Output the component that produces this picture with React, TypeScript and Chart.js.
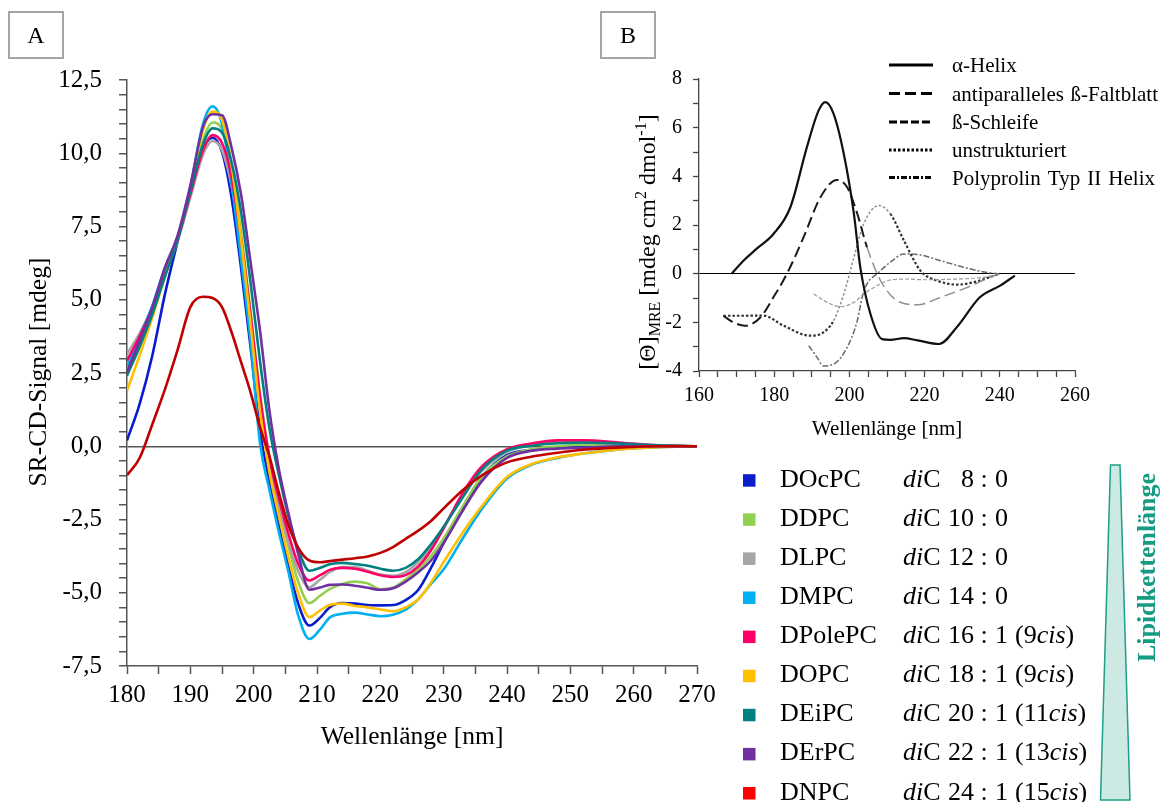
import React, { useEffect, useRef } from 'react';
import { Chart, registerables } from 'chart.js';

Chart.register(...registerables);

const FONT = "'Liberation Serif', 'Times New Roman', Times, serif";

// ---------- Panel A data ----------
const wavelengths = [180, 182, 184, 186, 188, 190, 192, 193.5, 195, 196.5, 198, 199.5, 201, 202.5, 204, 205.5, 207, 208.8, 210.5, 212, 214, 216, 218, 220, 222, 224, 226, 228, 230, 233, 236, 240, 244, 248, 252, 258, 264, 270];

const dOcPC = [0.2, 1.45, 3.1, 5.2, 7.0, 8.7, 10.15, 10.53, 10.05, 8.5, 6.1, 3.4, 0.55, -1.2, -2.7, -4.1, -5.35, -6.12, -5.85, -5.5, -5.35, -5.37, -5.42, -5.43, -5.42, -5.25, -4.9, -4.15, -3.3, -2.1, -1.05, -0.3, -0.12, -0.06, -0.03, 0, 0, 0];
const dDPC = [2.6, 3.6, 4.6, 5.95, 7.05, 8.7, 10.45, 11.05, 10.8, 9.5, 7.3, 4.6, 1.8, -0.4, -2.0, -3.4, -4.6, -5.35, -5.1, -4.88, -4.7, -4.62, -4.68, -4.88, -4.82, -4.55, -4.2, -3.75, -3.15, -2.05, -1.05, -0.35, -0.1, 0, 0.05, 0.03, 0.01, 0];
const dLPC = [3.15, 3.85, 4.75, 5.9, 7.0, 8.5, 9.95, 10.42, 10.1, 8.9, 6.9, 4.3, 1.6, -0.6, -2.1, -3.3, -4.25, -4.81, -4.55, -4.3, -4.12, -4.12, -4.25, -4.38, -4.42, -4.3, -3.95, -3.45, -2.75, -1.7, -0.85, -0.2, 0.05, 0.12, 0.12, 0.06, 0.02, 0];
const dMPC = [2.7, 3.75, 4.8, 6.1, 7.15, 8.85, 11.0, 11.6, 11.0, 9.0, 6.4, 3.6, 0.1, -1.5, -2.95, -4.3, -5.75, -6.58, -6.25, -5.85, -5.72, -5.68, -5.74, -5.8, -5.75, -5.58, -5.22, -4.7, -4.2, -3.15, -2.15, -1.1, -0.62, -0.4, -0.25, -0.1, -0.03, 0];
const dPolePC = [2.92, 3.75, 4.7, 5.9, 7.05, 8.6, 10.1, 10.62, 10.35, 9.2, 7.1, 4.5, 1.7, -0.4, -1.8, -3.0, -4.0, -4.58, -4.4, -4.22, -4.15, -4.18, -4.28, -4.4, -4.46, -4.4, -4.1, -3.55, -2.8, -1.6, -0.7, -0.1, 0.1, 0.2, 0.2, 0.12, 0.03, 0];
const dOPC = [1.9, 3.1, 4.4, 5.8, 7.1, 8.8, 10.8, 11.42, 11.15, 9.6, 7.1, 4.2, 1.2, -0.9, -2.4, -3.8, -5.0, -5.83, -5.6, -5.42, -5.37, -5.45, -5.5, -5.57, -5.63, -5.5, -5.22, -4.65, -3.95, -2.95, -2.05, -1.05, -0.6, -0.38, -0.25, -0.1, -0.03, 0];
const dEiPC = [2.41, 3.4, 4.5, 5.8, 7.05, 8.7, 10.3, 10.85, 10.7, 9.7, 8.0, 5.6, 2.9, 0.6, -1.0, -2.4, -3.5, -4.25, -4.15, -4.03, -3.98, -4.02, -4.08, -4.18, -4.25, -4.15, -3.85, -3.35, -2.75, -1.75, -0.8, -0.15, 0.02, 0.1, 0.13, 0.09, 0.03, 0];
const dErPC = [2.53, 3.6, 4.75, 6.1, 7.2, 8.9, 10.9, 11.33, 11.3, 10.2, 8.6, 6.3, 3.95, 1.2, -0.8, -2.3, -3.65, -4.9, -4.82, -4.73, -4.72, -4.76, -4.83, -4.9, -4.85, -4.62, -4.3, -3.9, -3.3, -2.2, -1.2, -0.4, -0.15, -0.08, -0.05, 0, 0, 0];
const dNPC = [-0.99, -0.4, 0.75, 1.95, 3.3, 4.75, 5.1, 5.06, 4.75, 3.9, 2.88, 1.85, 0.65, -0.35, -1.6, -2.7, -3.45, -3.9, -3.96, -3.92, -3.87, -3.82, -3.76, -3.64, -3.44, -3.16, -2.88, -2.55, -2.12, -1.5, -1.0, -0.55, -0.35, -0.22, -0.12, -0.04, 0, 0];

const lipidNames = ['DOcPC', 'DDPC', 'DLPC', 'DMPC', 'DPolePC', 'DOPC', 'DEiPC', 'DErPC', 'DNPC'];
const chainCarbons = ['8', '10', '12', '14', '16', '18', '20', '22', '24'];
const doubleBonds = ['0', '0', '0', '0', '1', '1', '1', '1', '1'];
const cisPositions = ['', '', '', '', '9', '9', '11', '13', '15'];
const lineColors = ['#0a1ccc', '#92d050', '#a6a6a6', '#00b0f0', '#ff0066', '#ffc000', '#008080', '#7030a0', '#c00000'];
const legendColors = ['#0a1ccc', '#92d050', '#a6a6a6', '#00b0f0', '#ff0066', '#ffc000', '#008080', '#7030a0', '#ff0000'];
const seriesA = [dOcPC, dDPC, dLPC, dMPC, dPolePC, dOPC, dEiPC, dErPC, dNPC];

// ---------- Panel B data ----------
const helixX = [168.7, 171.8, 175.3, 179.8, 184.3, 188.7, 191.8, 193.6, 195.8, 198.5, 201.2, 202.9, 205.6, 208.7, 210.9, 214.5, 218.1, 223.9, 228.5, 234.7, 240.1, 244.0];
const helixY = [0, 0.53, 1.02, 1.63, 2.73, 5.2, 6.7, 7.05, 6.57, 4.93, 2.46, 0.26, -1.66, -2.69, -2.72, -2.65, -2.74, -2.89, -2.21, -0.97, -0.49, -0.08];
const antiX = [166.5, 169.1, 172.3, 176.3, 179.8, 183.4, 187.8, 192.3, 196.7, 199.4, 202.1, 204.7, 208.3, 212.7, 218.1, 224.3, 231.4, 237.6, 240];
const antiY = [-1.73, -2.0, -2.14, -1.8, -0.97, 0, 1.49, 3.14, 3.85, 3.55, 2.46, 1.08, -0.29, -1.11, -1.28, -0.97, -0.56, -0.13, 0];
const turnX = [190.5, 194.1, 197.6, 201.2, 203.8, 207.4, 210.9, 215.4, 219.8, 228.7, 235.8, 240];
const turnY = [-0.84, -1.18, -1.36, -1.18, -0.84, -0.49, -0.26, -0.22, -0.25, -0.22, -0.15, 0];
const coilX = [166.5, 171.8, 177.1, 182.5, 189.6, 193.1, 195.8, 198.5, 201.2, 203.8, 207.8, 210.9, 214.5, 218.9, 223.4, 228.7, 233.1, 237.6, 240];
const coilY = [-1.73, -1.73, -1.72, -2.14, -2.55, -2.41, -1.93, -0.84, 0.67, 2.04, 2.8, 2.46, 1.36, 0.12, -0.29, -0.45, -0.35, -0.13, 0];
const ppiiX = [189.2, 191.4, 193.1, 195.8, 199.4, 202.1, 203.4, 204.7, 207.4, 210.9, 214.5, 218.1, 224.3, 230.5, 235.8, 239.5];
const ppiiY = [-2.96, -3.44, -3.79, -3.72, -3.03, -1.93, -0.97, -0.42, 0, 0.47, 0.81, 0.79, 0.53, 0.26, 0.07, 0];
const structureLabels = ['α-Helix', 'antiparalleles ß-Faltblatt', 'ß-Schleife', 'unstrukturiert', 'Polyprolin Typ II Helix'];
const structureDashes = [[], [11, 5], [8, 3], [2.5, 2], [6, 2, 2, 2]];
const justifyRight = [0, 1158, 0, 0, 1155];

function tickIsMultiple(v: number, m: number) {
  return Math.abs(v / m - Math.round(v / m)) < 1e-6;
}

function drawPanelBox(ctx: CanvasRenderingContext2D, x: number, y: number, w: number, h: number, label: string) {
  ctx.save();
  ctx.strokeStyle = '#a6a6a6';
  ctx.lineWidth = 2;
  ctx.strokeRect(x, y, w, h);
  ctx.fillStyle = '#000';
  ctx.font = `24px ${FONT}`;
  ctx.textAlign = 'center';
  ctx.textBaseline = 'alphabetic';
  ctx.fillText(label, x + w / 2, y + h / 2 + 8);
  ctx.restore();
}

// draws words spread between x0 and x1 (justified)
function drawJustified(ctx: CanvasRenderingContext2D, text: string, x0: number, x1: number, y: number) {
  const words = text.split(' ');
  const widths = words.map((w) => ctx.measureText(w).width);
  const sum = widths.reduce((a, b) => a + b, 0);
  const gap = words.length > 1 ? (x1 - x0 - sum) / (words.length - 1) : 0;
  let x = x0;
  ctx.textAlign = 'left';
  words.forEach((w, i) => {
    ctx.fillText(w, x, y);
    x += widths[i] + gap;
  });
}

const mainDecor = {
  id: 'mainDecor',
  afterDraw(chart: any) {
    const ctx: CanvasRenderingContext2D = chart.ctx;
    ctx.save();
    drawPanelBox(ctx, 9, 12, 54, 46, 'A');
    drawPanelBox(ctx, 601, 12, 54, 46, 'B');

    ctx.fillStyle = '#000';
    ctx.font = `25.5px ${FONT}`;
    ctx.textAlign = 'center';
    ctx.textBaseline = 'alphabetic';
    ctx.fillText('Wellenlänge [nm]', 412, 744);
    ctx.save();
    ctx.translate(46, 372);
    ctx.rotate(-Math.PI / 2);
    ctx.fillText('SR-CD-Signal [mdeg]', 0, 0);
    ctx.restore();

    // lipid legend
    const base0 = 486.7;
    const step = 39.1;
    for (let i = 0; i < lipidNames.length; i++) {
      const b = base0 + i * step;
      ctx.fillStyle = legendColors[i];
      ctx.fillRect(743, b - 12.5, 12.5, 12.5);
      ctx.fillStyle = '#000';
      ctx.font = `26px ${FONT}`;
      ctx.textAlign = 'left';
      ctx.fillText(lipidNames[i], 780, b);
      ctx.font = `italic 26px ${FONT}`;
      ctx.fillText('di', 903, b);
      const wDi = ctx.measureText('di').width;
      ctx.font = `26px ${FONT}`;
      ctx.fillText('C', 903 + wDi, b);
      ctx.textAlign = 'right';
      ctx.fillText(chainCarbons[i], 974, b);
      ctx.textAlign = 'center';
      ctx.fillText(':', 984, b);
      ctx.textAlign = 'left';
      ctx.fillText(doubleBonds[i], 995, b);
      if (cisPositions[i]) {
        let x = 1015;
        const t1 = '(' + cisPositions[i];
        ctx.fillText(t1, x, b);
        x += ctx.measureText(t1).width;
        ctx.font = `italic 26px ${FONT}`;
        ctx.fillText('cis', x, b);
        x += ctx.measureText('cis').width;
        ctx.font = `26px ${FONT}`;
        ctx.fillText(')', x, b);
      }
    }

    // wedge
    ctx.beginPath();
    ctx.moveTo(1110.5, 465);
    ctx.lineTo(1120, 465);
    ctx.lineTo(1130, 800);
    ctx.lineTo(1100.5, 800);
    ctx.closePath();
    ctx.fillStyle = '#cde9e3';
    ctx.fill();
    ctx.strokeStyle = '#1f9e88';
    ctx.lineWidth = 1.5;
    ctx.stroke();

    ctx.save();
    ctx.translate(1155, 567.5);
    ctx.rotate(-Math.PI / 2);
    ctx.fillStyle = '#179c83';
    ctx.font = `bold 26px ${FONT}`;
    ctx.textAlign = 'center';
    ctx.textBaseline = 'alphabetic';
    ctx.fillText('Lipidkettenlänge', 0, 0);
    ctx.restore();

    ctx.restore();
  },
};

const insetDecor = {
  id: 'insetDecor',
  afterDraw(chart: any) {
    const ctx: CanvasRenderingContext2D = chart.ctx;
    ctx.save();
    ctx.fillStyle = '#000';
    ctx.font = `21px ${FONT}`;
    ctx.textAlign = 'center';
    ctx.textBaseline = 'alphabetic';
    ctx.fillText('Wellenlänge [nm]', 287, 395);

    // rotated y title with sub/superscripts
    const big = 24;
    const small = 16;
    const parts = [
      { t: '[Θ]', s: big, dy: 0 },
      { t: 'MRE', s: small, dy: 5 },
      { t: ' [mdeg cm', s: big, dy: 0 },
      { t: '2', s: small, dy: -9 },
      { t: ' dmol', s: big, dy: 0 },
      { t: '-1', s: small, dy: -9 },
      { t: ']', s: big, dy: 0 },
    ];
    let total = 0;
    for (const p of parts) {
      ctx.font = `${p.s}px ${FONT}`;
      total += ctx.measureText(p.t).width;
    }
    ctx.save();
    ctx.translate(55, 202);
    ctx.rotate(-Math.PI / 2);
    ctx.textAlign = 'left';
    let x = -total / 2;
    for (const p of parts) {
      ctx.font = `${p.s}px ${FONT}`;
      ctx.fillText(p.t, x, p.dy);
      x += ctx.measureText(p.t).width;
    }
    ctx.restore();

    // structure legend
    const rowsY = [25, 53.5, 82, 110, 137.5];
    ctx.font = `21px ${FONT}`;
    for (let i = 0; i < structureLabels.length; i++) {
      const y = rowsY[i];
      ctx.beginPath();
      ctx.setLineDash(structureDashes[i]);
      ctx.strokeStyle = '#000';
      ctx.lineWidth = 3;
      ctx.moveTo(289, y);
      ctx.lineTo(333, y);
      ctx.stroke();
      ctx.setLineDash([]);
      ctx.fillStyle = '#000';
      if (justifyRight[i]) {
        drawJustified(ctx, structureLabels[i], 352, justifyRight[i] - 600, y + 7);
      } else {
        ctx.textAlign = 'left';
        ctx.fillText(structureLabels[i], 352, y + 7);
      }
    }
    ctx.restore();
  },
};

function xyData(xs: number[], ys: number[]) {
  return xs.map((x, i) => ({ x, y: ys[i] }));
}

export default function App() {
  const mainRef = useRef<HTMLCanvasElement>(null);
  const insetRef = useRef<HTMLCanvasElement>(null);

  useEffect(() => {
    const tickFontA = { family: FONT, size: 25 };
    const main = new Chart(mainRef.current as HTMLCanvasElement, {
      type: 'line',
      data: {
        datasets: seriesA.map((vals, i) => ({
          label: lipidNames[i],
          data: xyData(wavelengths, vals),
          borderColor: lineColors[i],
          borderWidth: 2.6,
          pointRadius: 0,
          fill: false,
          cubicInterpolationMode: 'monotone' as const,
          order: seriesA.length - 1 - i,
        })),
      },
      options: {
        animation: false,
        responsive: false,
        maintainAspectRatio: false,
        layout: { padding: { left: 0, right: 470, top: 80, bottom: 0 } },
        plugins: { legend: { display: false }, tooltip: { enabled: false } },
        scales: {
          x: {
            type: 'linear',
            min: 180,
            max: 270,
            ticks: {
              stepSize: 5,
              autoSkip: false,
              maxRotation: 0,
              color: '#000',
              font: tickFontA,
              padding: 6,
              callback: (v: any) => (tickIsMultiple(Number(v), 10) ? String(v) : ''),
            },
            grid: { drawOnChartArea: false, drawTicks: true, tickLength: 8, tickColor: '#555', tickWidth: 1.5 },
            border: { color: '#555', width: 1.5 },
            afterFit: (s: any) => { s.height = 136; },
          },
          y: {
            type: 'linear',
            min: -7.5,
            max: 12.5,
            ticks: {
              stepSize: 0.5,
              autoSkip: false,
              maxTicksLimit: 100,
              color: '#000',
              font: tickFontA,
              padding: 17,
              callback: (v: any) => {
                const n = Number(v);
                return tickIsMultiple(n, 2.5) ? n.toFixed(1).replace('.', ',') : '';
              },
            },
            grid: {
              drawOnChartArea: true,
              drawTicks: true,
              tickLength: 8,
              tickColor: '#555',
              tickWidth: 1.5,
              lineWidth: 1.5,
              color: (c: any) => (c.tick && c.tick.value === 0 ? '#555' : 'rgba(0,0,0,0)'),
            },
            border: { color: '#555', width: 1.5 },
            afterFit: (s: any) => { s.width = 127; },
          },
        },
      },
      plugins: [mainDecor],
    } as any);

    const tickFontB = { family: FONT, size: 20 };
    const gray = '#8c8c8c';
    const dark = '#1a1a1a';
    const inset = new Chart(insetRef.current as HTMLCanvasElement, {
      type: 'line',
      data: {
        datasets: [
          {
            label: structureLabels[0],
            data: xyData(helixX, helixY),
            borderColor: '#111',
            borderWidth: 2.2,
            pointRadius: 0,
            cubicInterpolationMode: 'monotone',
          },
          {
            label: structureLabels[1],
            data: xyData(antiX, antiY),
            borderColor: dark,
            borderWidth: 2,
            borderDash: structureDashes[1],
            pointRadius: 0,
            cubicInterpolationMode: 'monotone',
            segment: {
              borderColor: (c: any) => (c.p0.parsed.x >= 204 ? gray : dark),
              borderWidth: (c: any) => (c.p0.parsed.x >= 204 ? 1.4 : 2),
            },
          },
          {
            label: structureLabels[2],
            data: xyData(turnX, turnY),
            borderColor: '#9a9a9a',
            borderWidth: 1.2,
            borderDash: [4, 2],
            pointRadius: 0,
            cubicInterpolationMode: 'monotone',
          },
          {
            label: structureLabels[3],
            data: xyData(coilX, coilY),
            borderColor: dark,
            borderWidth: 2.2,
            borderDash: structureDashes[3],
            pointRadius: 0,
            cubicInterpolationMode: 'monotone',
            segment: {
              borderColor: (c: any) => (c.p0.parsed.x >= 195.8 && c.p0.parsed.x < 210.9 ? gray : '#333'),
              borderWidth: (c: any) => (c.p0.parsed.x >= 195.8 && c.p0.parsed.x < 210.9 ? 1.5 : 2.2),
            },
          },
          {
            label: structureLabels[4],
            data: xyData(ppiiX, ppiiY),
            borderColor: '#6a6a6a',
            borderWidth: 1.5,
            borderDash: structureDashes[4],
            pointRadius: 0,
            cubicInterpolationMode: 'monotone',
          },
        ],
      },
      options: {
        animation: false,
        responsive: false,
        maintainAspectRatio: false,
        layout: { padding: { left: 0, right: 92, top: 39, bottom: 0 } },
        plugins: { legend: { display: false }, tooltip: { enabled: false } },
        scales: {
          x: {
            type: 'linear',
            min: 160,
            max: 260,
            ticks: {
              stepSize: 5,
              autoSkip: false,
              maxRotation: 0,
              color: '#000',
              font: tickFontB,
              padding: 7,
              callback: (v: any) => (tickIsMultiple(Number(v), 20) ? String(v) : ''),
            },
            grid: { drawOnChartArea: false, drawTicks: true, tickLength: 6, tickColor: '#444', tickWidth: 1.3 },
            border: { color: '#444', width: 1.3 },
            afterFit: (s: any) => { s.height = 79; },
          },
          y: {
            type: 'linear',
            min: -4,
            max: 8,
            ticks: {
              stepSize: 1,
              autoSkip: false,
              maxTicksLimit: 100,
              color: '#000',
              font: tickFontB,
              padding: 11,
              callback: (v: any) => (tickIsMultiple(Number(v), 2) ? String(v) : ''),
            },
            grid: {
              drawOnChartArea: true,
              drawTicks: true,
              tickLength: 6,
              tickColor: '#444',
              tickWidth: 1.3,
              lineWidth: 1,
              color: (c: any) => (c.tick && c.tick.value === 0 ? '#000' : 'rgba(0,0,0,0)'),
            },
            border: { color: '#444', width: 1.3 },
            afterFit: (s: any) => { s.width = 99; },
          },
        },
      },
      plugins: [insetDecor],
    } as any);

    return () => {
      main.destroy();
      inset.destroy();
    };
  }, []);

  return (
    <div style={{ position: 'absolute', left: 0, top: 0, width: 1167, height: 802, background: '#fff', overflow: 'hidden' }}>
      <canvas ref={mainRef} width={1167} height={802} style={{ position: 'absolute', left: 0, top: 0, width: 1167, height: 802 }} />
      <canvas ref={insetRef} width={567} height={410} style={{ position: 'absolute', left: 600, top: 40, width: 567, height: 410 }} />
    </div>
  );
}
